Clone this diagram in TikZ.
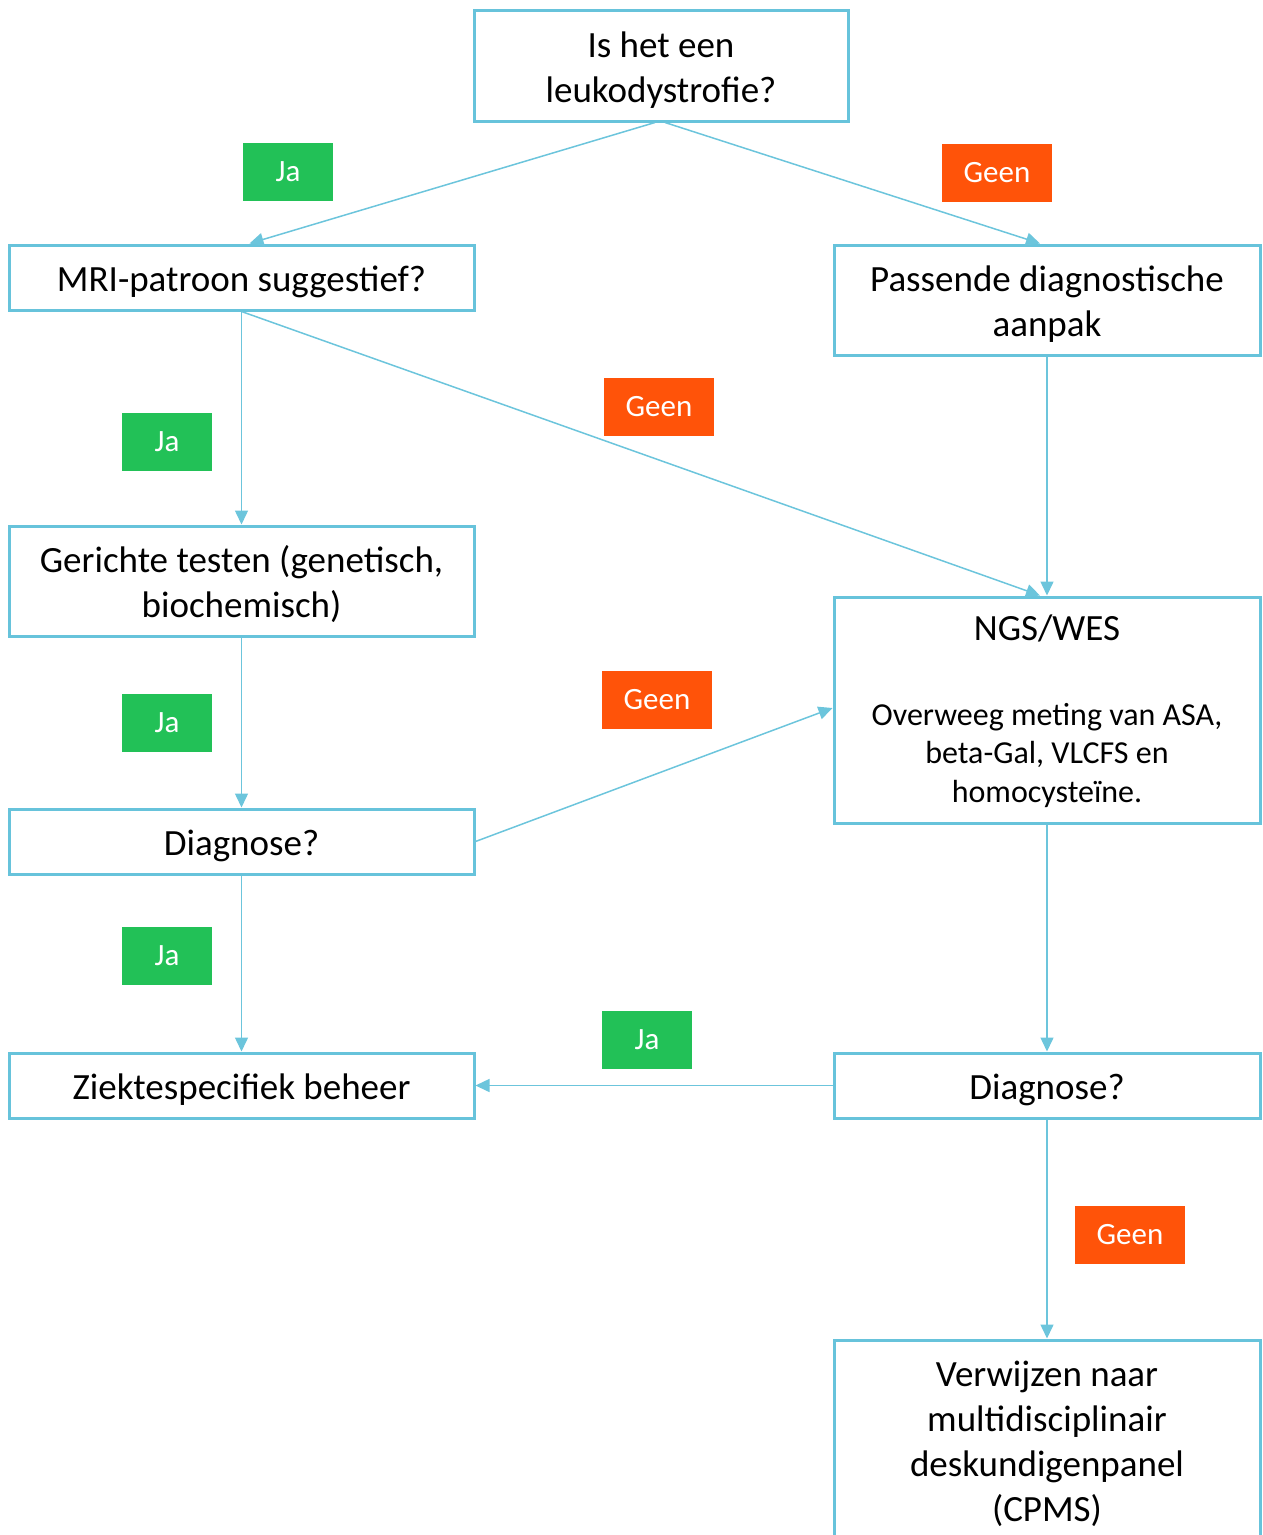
\documentclass[tikz,border=0pt]{standalone}
\usepackage{fontspec}
\setmainfont{Carlito}
\usetikzlibrary{arrows.meta, positioning}
\definecolor{boxblue}{HTML}{67C3DB}
\definecolor{lineblue}{HTML}{6CC5DC}
\definecolor{jagreen}{HTML}{22C157}
\definecolor{geenorange}{HTML}{FF5309}
\newcommand{\linelift}{\rule{0pt}{34pt}}

\begin{document}
\begin{tikzpicture}[
  x=1pt, y=-1pt,
  every node/.style={font=\fontsize{37}{45}\selectfont},
  flowbox/.style={
    rectangle, draw=boxblue, line width=3pt,
    fill=white, align=center, inner sep=0pt,
    execute at begin node={\linelift},
  },
  leftbox/.style={flowbox, minimum width=465pt},
  rightbox/.style={flowbox, minimum width=426pt},
  yeslabel/.style={
    fill=jagreen, text=white,
    minimum width=90pt, minimum height=58pt,
    font=\fontsize{31}{37}\selectfont,
  },
  nolabel/.style={yeslabel, fill=geenorange, minimum width=110pt},
  arrow/.style={-{Triangle[length=14pt, width=13pt]}, line width=1.5pt, color=lineblue},
]
\useasboundingbox (0,0) rectangle (1262,1535);

% boxes
\node[flowbox, minimum width=374pt, minimum height=111pt] (leuko) at (661,65.5) {\linelift Is het een\\leukodystrofie?};
\node[leftbox,  minimum height=65pt]  (mri)     at (241.5,277.5) {MRI-patroon suggestief?};
\node[rightbox, minimum height=110pt] (passend) at (1047,300)    {\linelift Passende diagnostische\\aanpak};
\node[leftbox,  minimum height=110pt] (gericht) at (241.5,581)   {\linelift Gerichte testen (genetisch,\\biochemisch)};
\node[rightbox, minimum height=226pt] (ngs)     at (1047,710)
  {\linelift NGS/WES\\[40pt]
   {\fontsize{32}{38.5}\selectfont
    \begin{tabular}[t]{@{}c@{}}Overweeg meting van ASA,\\beta-Gal, VLCFS en\\homocysteïne.\end{tabular}}};
\node[leftbox,  minimum height=65pt]  (diagL)   at (241.5,841.5) {Diagnose?};
\node[leftbox,  minimum height=65pt]  (ziekte)  at (241.5,1085.5) {Ziektespecifiek beheer};
\node[rightbox, minimum height=65pt]  (diagR)   at (1047,1085.5) {Diagnose?};
\node[rightbox, minimum height=200pt] (cpms)    at (1047,1440)
  {\linelift Verwijzen naar\\multidisciplinair\\deskundigenpanel\\(CPMS)};

% labels
\node[yeslabel] (ja1)   at (288,172)    {Ja};
\node[nolabel]  (geen1) at (997,172.5)  {Geen};
\node[yeslabel] (ja2)   at (167,442)    {Ja};
\node[nolabel]  (geen2) at (659,406.5)  {Geen};
\node[yeslabel] (ja3)   at (167,723)    {Ja};
\node[nolabel]  (geen3) at (657,700)    {Geen};
\node[yeslabel] (ja4)   at (167,956)    {Ja};
\node[yeslabel] (ja5)   at (647,1039.5) {Ja};
\node[nolabel]  (geen4) at (1130,1235)  {Geen};

% connectors
\draw[arrow] ([xshift=-6pt]leuko.south) -- ([xshift=8pt]mri.north);
\draw[arrow] ([xshift=4pt]leuko.south)  -- ([xshift=-7pt]passend.north);
\draw[arrow] (mri.south)     -- (gericht.north);
\draw[arrow] (mri.south)     -- ([xshift=-7pt]ngs.north);
\draw[arrow] (passend.south) -- (ngs.north);
\draw[arrow] (gericht.south) -- (diagL.north);
\draw[arrow] (diagL.east)    -- ([yshift=2pt]ngs.west);
\draw[arrow] (diagL.south)   -- (ziekte.north);
\draw[arrow] (ngs.south)     -- (diagR.north);
\draw[arrow] (diagR.west)    -- (ziekte.east);
\draw[arrow] (diagR.south)   -- (cpms.north);

\end{tikzpicture}
\end{document}
